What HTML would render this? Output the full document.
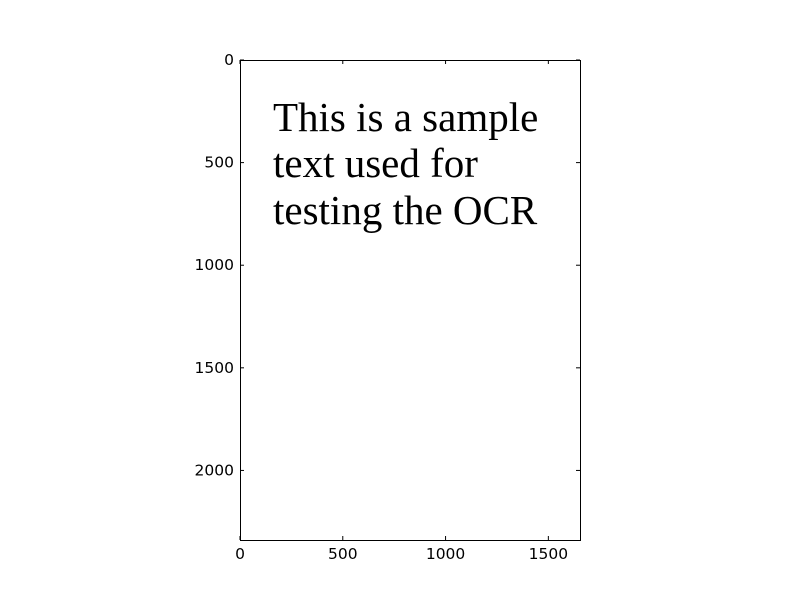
<!DOCTYPE html>
<html><head><meta charset="utf-8"><style>
html,body{margin:0;padding:0;background:#fff;width:800px;height:600px;overflow:hidden}
svg text{font-family:"DejaVu Sans","Liberation Sans",sans-serif}
</style></head><body>
<svg id="chart" width="800" height="600" viewBox="0 0 800 600" xmlns="http://www.w3.org/2000/svg">
<rect x="0" y="0" width="800" height="600" fill="#fff"/>
<g id="img">
<rect x="240" y="60" width="340" height="480" fill="#fff"/>
<text x="273" y="131" font-size="41" fill="#000" style="font-family:'Liberation Serif',serif">This is a sample</text>
<text x="273" y="177" font-size="41" fill="#000" style="font-family:'Liberation Serif',serif">text used for</text>
<text x="273" y="224" font-size="41" fill="#000" style="font-family:'Liberation Serif',serif">testing the OCR</text>
</g>
<g id="axes"></g>
</svg>
<script>
const xTicks = [0, 500, 1000, 1500];
const yTicks = [0, 500, 1000, 1500, 2000];
const imgW = 1654;
const imgH = 2339;
const L = 240, T = 60, W = 340, H = 480;
const sx = v => L + v / imgW * W;
const sy = v => T + v / imgH * H;
const g = document.getElementById('axes');
const NS = 'http://www.w3.org/2000/svg';
function mk(tag, attrs){const e=document.createElementNS(NS,tag);for(const k in attrs)e.setAttribute(k,attrs[k]);g.appendChild(e);return e;}
xTicks.forEach(v=>{
  const x=sx(v);
  const t1=mk('line',{x1:x,x2:x,y1:T+H,y2:T+H-4,stroke:'#000'});
  
  
  const t2=mk('line',{x1:x,x2:x,y1:T,y2:T+4,stroke:'#000'});
  
  
  const lb=mk('text',{x:x,y:T+H+19,'text-anchor':'middle','font-size':'15.5',fill:'#000'});
  lb.textContent=v;
  
  
});
yTicks.forEach(v=>{
  const y=sy(v);
  const t1=mk('line',{x1:L,x2:L+4,y1:y,y2:y,stroke:'#000'});
  
  
  const t2=mk('line',{x1:L+W,x2:L+W-4,y1:y,y2:y,stroke:'#000'});
  
  
  const lb=mk('text',{x:L-6,y:y+5,'text-anchor':'end','font-size':'15.5',fill:'#000'});
  lb.textContent=v;
  
  
});
const fr=mk('rect',{x:L+0.5,y:T+0.5,width:W,height:H,fill:'none',stroke:'#000','stroke-width':1});


</script>
</body></html>
